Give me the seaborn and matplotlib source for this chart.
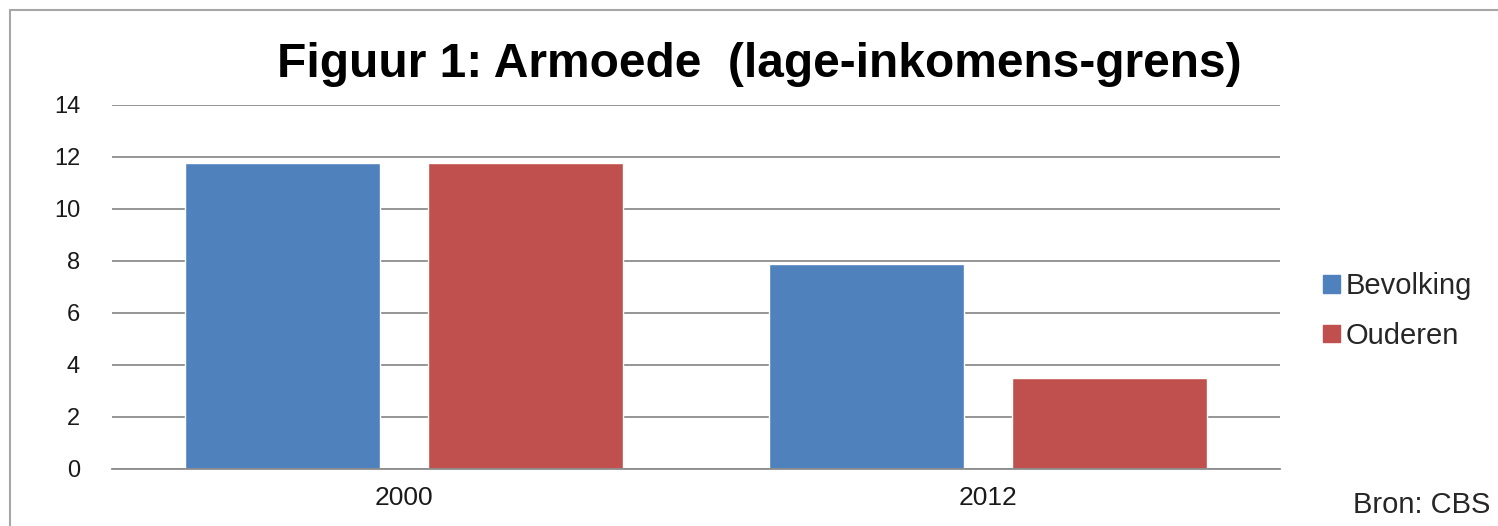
import pandas as pd
import matplotlib.pyplot as plt
import seaborn as sns
from matplotlib.patches import Rectangle

years = ['2000', '2012']
bevolking = [11.75, 7.9]
ouderen = [11.75, 3.5]
series = ['Bevolking', 'Ouderen']
colors = ['#4F81BD', '#C0504D']

df = pd.DataFrame({
    'jaar': years * 2,
    'waarde': bevolking + ouderen,
    'groep': [series[0]] * 2 + [series[1]] * 2,
})

sns.set_style('white')
plt.rcParams['font.family'] = ['Liberation Sans', 'DejaVu Sans']

fig = plt.figure(figsize=(14.98, 5.26), dpi=100)
ax = fig.add_axes([0.0748, 0.1084, 0.7797, 0.692])

sns.barplot(data=df, x='jaar', y='waarde', hue='groep', palette=colors,
            saturation=1, width=0.832, gap=0.2, ax=ax, legend=False)

ax.set_ylim(0, 14)
ax.set_yticks(range(0, 15, 2))
ax.set_xlim(-0.5, 1.5)
ax.yaxis.grid(True, color='#8c8c8c', linewidth=1.3)
ax.set_axisbelow(True)
for s in ['left', 'right', 'top']:
    ax.spines[s].set_visible(False)
ax.spines['bottom'].set_color('#8c8c8c')
ax.spines['bottom'].set_linewidth(1.3)
ax.tick_params(axis='y', labelsize=17, colors='#1a1a1a', length=0, pad=23)
ax.tick_params(axis='x', labelsize=19, colors='#1a1a1a', length=0, pad=12)
ax.set_xlabel('')
ax.set_ylabel('')

fig.text(0.507, 0.877, 'Figuur 1: Armoede  (lage-inkomens-grens)',
         ha='center', va='center', fontsize=34.5, fontweight='bold', color='black')

handles = [Rectangle((0, 0), 1, 1, color=c) for c in colors]
fig.legend(handles, series, loc='upper left', bbox_to_anchor=(0.8757, 0.505),
           frameon=False, fontsize=21, handlelength=0.55, handleheight=0.55,
           handletextpad=0.2, labelspacing=0.75, borderaxespad=0)

fig.text(0.995, 0.04, 'Bron: CBS', ha='right', va='center', fontsize=21)

fig.patches.append(Rectangle((10 / 1498, -0.05), 1.1, 1 - 10 / 526 + 0.05,
                             transform=fig.transFigure, fill=False,
                             edgecolor='#a6a6a6', linewidth=1.5))

fig.savefig('out.png', dpi=100)
